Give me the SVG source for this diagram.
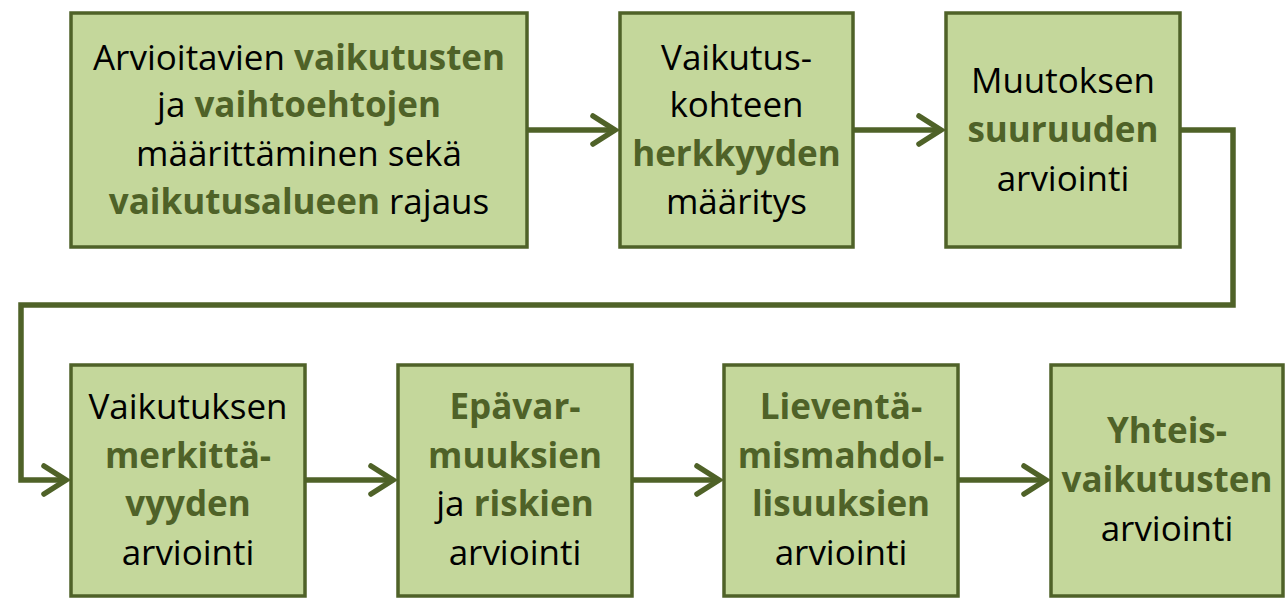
<svg xmlns="http://www.w3.org/2000/svg" width="1287" height="612" viewBox="0 0 1287 612">
<style>
.box{fill:#c4d79b;stroke:#4f6228;stroke-width:3.5}
.t{font-family:"Open Sans","Liberation Sans",sans-serif;font-size:35px;fill:#000;text-anchor:middle}
.b{font-weight:bold;fill:#4f6228}
.c{fill:none;stroke:#4f6228;stroke-width:5.5;stroke-linejoin:miter}
</style>
<defs>
<marker id="ah" markerUnits="userSpaceOnUse" markerWidth="40" markerHeight="40" refX="0" refY="0" viewBox="-30 -20 40 40" orient="auto" overflow="visible">
<path d="M-22,-14 L0,0 L-22,14" fill="none" stroke="#4f6228" stroke-width="5.5" stroke-linecap="round"/>
</marker>
</defs>
<rect width="1287" height="612" fill="#fff"/>
<g id="connectors">
<path class="c" d="M527,130 H615" marker-end="url(#ah)"/>
<path class="c" d="M853,130 H941" marker-end="url(#ah)"/>
<path class="c" d="M1180,130 H1233 V305 H21 V480 H66" marker-end="url(#ah)"/>
<path class="c" d="M305,480 H393" marker-end="url(#ah)"/>
<path class="c" d="M632,480 H719" marker-end="url(#ah)"/>
<path class="c" d="M958,480 H1046" marker-end="url(#ah)"/>
</g>
<g id="n1">
<rect class="box" x="71" y="13" width="456" height="234"/>
<text class="t" x="299" y="70">Arvioitavien <tspan class="b">vaikutusten</tspan></text>
<text class="t" x="299" y="117">ja <tspan class="b">vaihtoehtojen</tspan></text>
<text class="t" x="299" y="166">määrittäminen sekä</text>
<text class="t" x="299" y="214"><tspan class="b">vaikutusalueen</tspan> rajaus</text>
</g>
<g id="n2">
<rect class="box" x="620" y="13" width="233" height="234"/>
<text class="t" x="736.5" y="70">Vaikutus-</text>
<text class="t" x="736.5" y="117">kohteen</text>
<text class="t" x="736.5" y="166"><tspan class="b">herkkyyden</tspan></text>
<text class="t" x="736.5" y="214">määritys</text>
</g>
<g id="n3">
<rect class="box" x="946" y="13" width="234" height="234"/>
<text class="t" x="1063" y="93">Muutoksen</text>
<text class="t" x="1063" y="142"><tspan class="b">suuruuden</tspan></text>
<text class="t" x="1063" y="191">arviointi</text>
</g>
<g id="n4">
<rect class="box" x="71" y="365" width="234" height="231"/>
<text class="t" x="188" y="419">Vaikutuksen</text>
<text class="t" x="188" y="468"><tspan class="b">merkittä-</tspan></text>
<text class="t" x="188" y="516"><tspan class="b">vyyden</tspan></text>
<text class="t" x="188" y="565">arviointi</text>
</g>
<g id="n5">
<rect class="box" x="398" y="365" width="234" height="231"/>
<text class="t" x="515" y="419"><tspan class="b">Epävar-</tspan></text>
<text class="t" x="515" y="468"><tspan class="b">muuksien</tspan></text>
<text class="t" x="515" y="516">ja <tspan class="b">riskien</tspan></text>
<text class="t" x="515" y="565">arviointi</text>
</g>
<g id="n6">
<rect class="box" x="724" y="365" width="234" height="231"/>
<text class="t" x="841" y="419"><tspan class="b">Lieventä-</tspan></text>
<text class="t" x="841" y="468"><tspan class="b">mismahdol-</tspan></text>
<text class="t" x="841" y="516"><tspan class="b">lisuuksien</tspan></text>
<text class="t" x="841" y="565">arviointi</text>
</g>
<g id="n7">
<rect class="box" x="1051" y="365" width="232" height="231"/>
<text class="t" x="1167" y="443"><tspan class="b">Yhteis-</tspan></text>
<text class="t" x="1167" y="492"><tspan class="b">vaikutusten</tspan></text>
<text class="t" x="1167" y="541">arviointi</text>
</g>
</svg>
